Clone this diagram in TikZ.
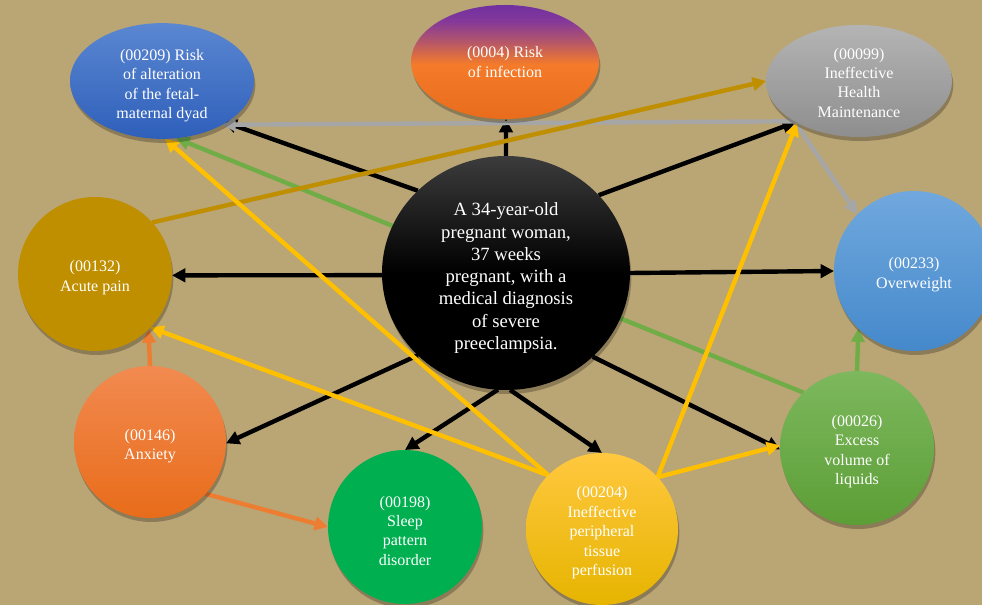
\documentclass[tikz,border=0pt]{standalone}
\usepackage{fontspec}
\setmainfont{Liberation Serif}
\usetikzlibrary{shapes.geometric,arrows.meta,shadows}
\pgfdeclarelayer{bg}
\pgfdeclarelayer{edges}
\pgfsetlayers{bg,edges,main}
\definecolor{bgc}{HTML}{BAA575}
\definecolor{blueA}{HTML}{5B87D1}
\definecolor{blueB}{HTML}{2E5FBA}
\definecolor{purp}{HTML}{7030A0}
\definecolor{purp2}{HTML}{84389A}
\definecolor{mauve}{HTML}{B4566A}
\definecolor{orgA}{HTML}{F47B2A}
\definecolor{orgB}{HTML}{E86C1C}
\definecolor{grayA}{HTML}{B4B4B4}
\definecolor{grayB}{HTML}{8E8E8E}
\definecolor{gold}{HTML}{BF8F00}
\definecolor{skyA}{HTML}{70A8DE}
\definecolor{skyB}{HTML}{4589CB}
\definecolor{anxA}{HTML}{F28A50}
\definecolor{anxB}{HTML}{E86C1A}
\definecolor{sleepc}{HTML}{00B050}
\definecolor{yelA}{HTML}{FFC83F}
\definecolor{yelB}{HTML}{E6B400}
\definecolor{grnA}{HTML}{7DB85E}
\definecolor{grnB}{HTML}{5C9E36}
\definecolor{cenA}{HTML}{3C3C3C}
\definecolor{egray}{HTML}{A6A6A6}
\definecolor{egreen}{HTML}{70AD47}
\definecolor{eorange}{HTML}{ED7D31}
\definecolor{eyellow}{HTML}{FFC000}
\pgfdeclareverticalshading{infshade}{100bp}{color(0bp)=(orgB); color(25bp)=(orgB); color(49bp)=(orgA); color(59bp)=(mauve); color(68bp)=(purp2); color(75bp)=(purp); color(100bp)=(purp)}
\pgfdeclareverticalshading{censhade}{100bp}{color(0bp)=(black); color(25bp)=(black); color(50bp)=(black); color(75bp)=(cenA); color(100bp)=(cenA)}
\newcommand{\lowr}[1]{\rule{0pt}{#1}}
\begin{document}
\begin{tikzpicture}[x=0.75pt,y=-0.75pt,
  dxnode/.style={font=\fontsize{12}{14.6}\selectfont, text=white, align=center,
    inner sep=0pt, outer sep=0pt,
    drop shadow={shadow xshift=1pt, shadow yshift=-3pt, opacity=0.25, fill=black}},
  circ/.style={dxnode, circle, minimum size=#1*0.75pt},
  ell/.style 2 args={dxnode, ellipse, minimum width=#1*0.75pt, minimum height=#2*0.75pt},
  link/.style={line width=3.3pt, -{Triangle[length=10pt,width=10pt]}}
]
\useasboundingbox (0,0) rectangle (982,605);
\begin{pgfonlayer}{bg}
\fill[bgc] (0,0) rectangle (982,605);
\end{pgfonlayer}

% nodes
\node[ell={248}{234}, shading=censhade,
      font=\fontsize{14}{16.7}\selectfont] (C) at (506,273)
  {\lowr{17.5pt}A 34-year-old\\pregnant woman,\\37 weeks\\pregnant, with a\\medical diagnosis\\of severe\\preeclampsia.};
\node[ell={184}{114}, top color=blueA, bottom color=blueB] (n209) at (162,81)
  {\lowr{15pt}(00209) Risk\\of alteration\\of the fetal-\\maternal dyad};
\node[ell={188}{114}, shading=infshade] (n4) at (505,62)
  {(0004) Risk\\of infection};
\node[ell={186}{112}, top color=grayA, bottom color=grayB] (n99) at (859,81)
  {\lowr{11pt}(00099)\\Ineffective\\Health\\Maintenance};
\node[circ=154, fill=gold] (A) at (95,274) {\lowr{14pt}(00132)\\Acute pain};
\node[circ=160, top color=skyA, bottom color=skyB] (O) at (914,271) {\lowr{14pt}(00233)\\Overweight};
\node[circ=152, top color=anxA, bottom color=anxB] (X) at (150,442) {\lowr{14.5pt}(00146)\\Anxiety};
\node[circ=154, fill=sleepc] (S) at (405,527) {\lowr{14pt}(00198)\\Sleep\\pattern\\disorder};
\node[circ=152, top color=yelA, bottom color=yelB] (P) at (602,529)
  {\lowr{14pt}(00204)\\Ineffective\\peripheral\\tissue\\perfusion};
\node[circ=154, top color=grnA, bottom color=grnB] (E) at (857,448)
  {\lowr{14pt}(00026)\\Excess\\volume of\\liquids};

\begin{pgfonlayer}{edges}
% green
\draw[link, egreen] (E.134) -- (n209.-76);
\draw[link, egreen] (E.90) -- (O.-134);
% black
\draw[link, black] (C.90) -- (n4.-89);
\draw[link, black, shorten >=-2pt] (C.137) -- (n209.-33);
\draw[link, black] (C.40) -- (n99.-147);
\draw[link, black] (C.181) -- (A.-1);
\draw[link, black] (C.0) -- (O.180);
\draw[link, black] (C.223) -- (X.-1);
\draw[link, black] (C.266) -- (S.90);
\draw[link, black] (C.272) -- (P.90);
\draw[link, black] (C.-44) -- (E.181);
% gray
\draw[link, egray] (n99.212.6) -- (n209.-36);
\draw[link, egray] (n99.212.6) -- (O.135);
% gold
\draw[link, gold] (A.42) -- (n99.180);
% orange
\draw[link, eorange] (X.90) -- (A.-46);
\draw[link, eorange] (X.-43) -- (S.180);
% yellow
\draw[link, eyellow] (P.135) -- (n209.-87);
\draw[link, eyellow] (P.135) -- (A.-44);
\draw[link, eyellow] (P.43) -- (n99.-146);
\draw[link, eyellow] (P.43) -- (E.178);
\end{pgfonlayer}
\end{tikzpicture}
\end{document}
